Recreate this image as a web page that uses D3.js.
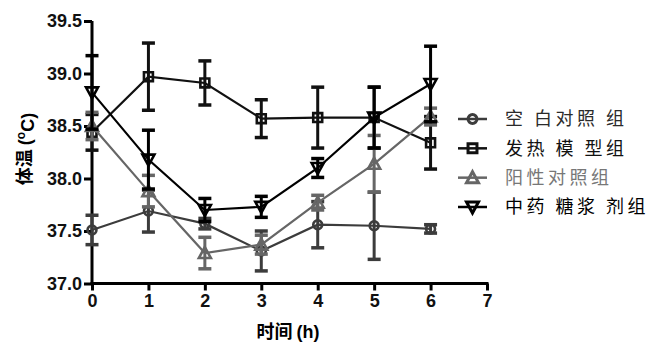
<!DOCTYPE html>
<html>
<head>
<meta charset="utf-8">
<script src="https://cdn.jsdelivr.net/npm/d3@7"></script>
<style>
  body { margin: 0; background: #fff; }
  text { font-family: Arial, "Liberation Sans", sans-serif; }
  .cjk { font-family: "Noto Sans CJK SC", sans-serif; }
</style>
</head>
<body>
<svg id="chart" width="659" height="354"></svg>
<script>
// hours
const hours = [0, 1, 2, 3, 4, 5, 6];
const xTicks = [0, 1, 2, 3, 4, 5, 6, 7];
const yTicks = [37.0, 37.5, 38.0, 38.5, 39.0, 39.5];

const groupNames = ["空 白对照 组", "发热 模 型组", "阳性对照组", "中药 糖浆 剂组"];

// mean body temperature for each group
const blankMean    = [37.51, 37.69, 37.57, 37.31, 37.56, 37.55, 37.52];
const feverMean    = [38.44, 38.97, 38.91, 38.57, 38.58, 38.58, 38.34];
const positiveMean = [38.50, 37.88, 37.29, 37.37, 37.77, 38.14, 38.59];
const syrupMean    = [38.82, 38.18, 37.70, 37.73, 38.10, 38.58, 38.90];

// error (sd)
const blankErr    = [0.14, 0.20, 0.05, 0.19, 0.22, 0.32, 0.04];
const feverErr    = [0.17, 0.32, 0.21, 0.18, 0.29, 0.29, 0.25];
const positiveErr = [0.13, 0.15, 0.15, 0.09, 0.07, 0.27, 0.08];
const syrupErr    = [0.35, 0.28, 0.11, 0.10, 0.09, 0.29, 0.36];

const series = [
  {name: groupNames[0], mean: blankMean, err: blankErr, color: "#3c3c3c", shape: "circle", txt: "#2a2a2a"},
  {name: groupNames[1], mean: feverMean, err: feverErr, color: "#111", shape: "square", txt: "#111"},
  {name: groupNames[2], mean: positiveMean, err: positiveErr, color: "#666", shape: "up", txt: "#777"},
  {name: groupNames[3], mean: syrupMean, err: syrupErr, color: "#000", shape: "down", txt: "#000"}
];

const svg = d3.select("#chart");
const x = d3.scaleLinear().domain([0, 7]).range([92, 487]);
const y = d3.scaleLinear().domain([37, 39.5]).range([283.5, 21]);

// axes
const xAxis = svg.append("g").attr("transform", "translate(0,283.5)")
  .call(d3.axisBottom(x).tickValues(xTicks).tickFormat(d3.format("d")).tickSizeInner(7).tickSizeOuter(0).tickPadding(4));
const yAxis = svg.append("g").attr("transform", "translate(92,0)")
  .call(d3.axisLeft(y).tickValues(yTicks).tickFormat(d3.format(".1f")).tickSizeInner(8).tickSizeOuter(0).tickPadding(2));
[xAxis, yAxis].forEach(a => {
  a.selectAll("path, line").attr("stroke", "#000").attr("stroke-width", 3);
  a.selectAll("text").attr("font-size", 18).attr("font-weight", "bold").attr("fill", "#111")
    .attr("font-family", "Arial, 'Liberation Sans', sans-serif");
});
xAxis.select(".domain").attr("d", `M${x(0)-1.5},0H${x(7)+1.5}`);
yAxis.select(".domain").attr("d", `M0,${y(39.5)}V${y(37)+1.5}`);

function symbolPath(shape) {
  if (shape === "circle") return d3.symbol().type(d3.symbolCircle).size(62)();
  if (shape === "square") return d3.symbol().type(d3.symbolSquare).size(80)();
  if (shape === "up") return "M0,-6L6,5L-6,5Z";
  return "M0,6L6,-5L-6,-5Z";
}

const line = d3.line().x((d, i) => x(hours[i])).y(d => y(d));

series.forEach(s => {
  const g = svg.append("g");
  // error bars
  hours.forEach((h, i) => {
    const hi = y(s.mean[i] + s.err[i]), lo = y(s.mean[i] - s.err[i]), cx = x(h);
    g.append("line").attr("x1", cx).attr("x2", cx).attr("y1", hi).attr("y2", lo)
      .attr("stroke", s.color).attr("stroke-width", 3);
    [hi, lo].forEach(v => g.append("line").attr("x1", cx - 6.5).attr("x2", cx + 6.5)
      .attr("y1", v).attr("y2", v).attr("stroke", s.color).attr("stroke-width", 3.5));
  });
  g.append("path").datum(s.mean).attr("d", line).attr("fill", "none")
    .attr("stroke", s.color).attr("stroke-width", 2.2);
  g.selectAll(".m").data(s.mean).enter().append("path")
    .attr("transform", (d, i) => `translate(${x(hours[i])},${y(d)})`)
    .attr("d", symbolPath(s.shape))
    .attr("fill", "none").attr("stroke", s.color).attr("stroke-width", 2.6);
});

// legend
const legend = svg.append("g");
const legendY = d3.scaleLinear().domain([0, 3]).range([119, 207]);
series.forEach((s, i) => {
  const ly = legendY(i);
  legend.append("line").attr("x1", 458).attr("x2", 487).attr("y1", ly).attr("y2", ly)
    .attr("stroke", s.color).attr("stroke-width", 2.5);
  legend.append("path").attr("transform", `translate(472.5,${ly})`).attr("d", symbolPath(s.shape))
    .attr("fill", "none").attr("stroke", s.color).attr("stroke-width", 3);
  legend.append("text").attr("class", "cjk").attr("x", 505).attr("y", ly).attr("dy", "0.36em")
    .attr("font-size", 18).attr("letter-spacing", 3.5).attr("fill", s.txt).attr("xml:space", "preserve")
    .style("white-space", "pre").text(s.name);
});

// axis titles
svg.append("text").attr("x", 288).attr("y", 332).attr("dy", "0.36em")
  .attr("text-anchor", "middle").attr("font-size", 18).attr("font-weight", "bold")
  .call(t => {
    t.append("tspan").attr("class", "cjk").text("时间 ");
    t.append("tspan").text("(h)");
  });

svg.append("text").attr("transform", "translate(25,149) rotate(-90)").attr("dy", "0.36em")
  .attr("text-anchor", "middle").attr("font-size", 18).attr("font-weight", "bold")
  .call(t => {
    t.append("tspan").attr("class", "cjk").text("体温 ");
    t.append("tspan").text("(");
    t.append("tspan").attr("font-size", 12).attr("dy", "-0.5em").text("o");
    t.append("tspan").attr("dy", "0.5em").text("C)");
  });
</script>
</body>
</html>
